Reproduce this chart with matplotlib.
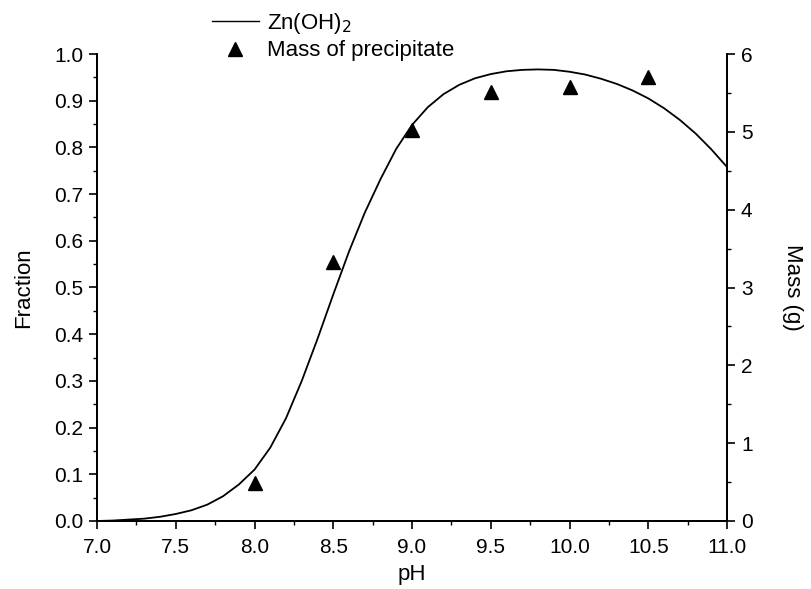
import matplotlib
matplotlib.use("Agg")
import matplotlib.pyplot as plt
from matplotlib.ticker import MultipleLocator, FormatStrFormatter
from matplotlib.lines import Line2D

plt.rcParams['font.family'] = ['Liberation Sans', 'DejaVu Sans']

# Zn(OH)2 fraction versus pH
ph_curve = [7.0, 7.1, 7.2, 7.3, 7.4, 7.5, 7.6, 7.7, 7.8, 7.9,
            8.0, 8.1, 8.2, 8.3, 8.4, 8.5, 8.6, 8.7, 8.8, 8.9,
            9.0, 9.1, 9.2, 9.3, 9.4, 9.5, 9.6, 9.7, 9.8, 9.9,
            10.0, 10.1, 10.2, 10.3, 10.4, 10.5, 10.6, 10.7, 10.8, 10.9, 11.0]
fraction = [0.000, 0.001, 0.003, 0.005, 0.009, 0.015, 0.023, 0.035, 0.053, 0.078,
            0.110, 0.157, 0.220, 0.300, 0.390, 0.485, 0.577, 0.660, 0.732, 0.797,
            0.848, 0.886, 0.914, 0.934, 0.948, 0.957, 0.963, 0.966, 0.967, 0.966,
            0.962, 0.956, 0.947, 0.936, 0.922, 0.905, 0.884, 0.859, 0.830, 0.796, 0.758]

# Measured mass of precipitate
ph_mass = [8.0, 8.5, 9.0, 9.5, 10.0, 10.5]
mass_g = [0.49, 3.33, 5.02, 5.51, 5.58, 5.71]

fig = plt.figure(figsize=(8.11, 5.89), dpi=100)
ax = fig.add_axes([97/811, 1-521/589, (727-97)/811, (521-54)/589])
ax2 = ax.twinx()

ax.plot(ph_curve, fraction, color='black', lw=1.3, solid_joinstyle='round')
ax2.plot(ph_mass, mass_g, linestyle='none', marker='^', color='black',
         markersize=10)

ax.set_xlim(7.0, 11.0)
ax.set_ylim(0.0, 1.0)
ax2.set_ylim(0, 6)

ax.xaxis.set_major_locator(MultipleLocator(0.5))
ax.xaxis.set_minor_locator(MultipleLocator(0.25))
ax.xaxis.set_major_formatter(FormatStrFormatter('%.1f'))
ax.yaxis.set_major_locator(MultipleLocator(0.1))
ax.yaxis.set_minor_locator(MultipleLocator(0.05))
ax.yaxis.set_major_formatter(FormatStrFormatter('%.1f'))
ax2.yaxis.set_major_locator(MultipleLocator(1))
ax2.yaxis.set_minor_locator(MultipleLocator(0.5))

for a in (ax, ax2):
    a.spines['top'].set_visible(False)
    for s in a.spines.values():
        s.set_linewidth(1.3)
    a.tick_params(which='major', direction='out', length=6, width=1.2,
                  labelsize=15, pad=4)
    a.tick_params(which='minor', direction='out', length=3, width=1.0)
ax.tick_params(axis='x', which='major', pad=6)

ax.set_xlabel('pH', fontsize=16, labelpad=5)
ax.set_ylabel('Fraction', fontsize=16, labelpad=14)
ax2.set_ylabel('Mass (g)', fontsize=16, rotation=270, labelpad=36)

handles = [Line2D([], [], color='black', lw=1.0),
           Line2D([], [], linestyle='none', marker='^', color='black', markersize=10)]
labels = ['Zn(OH)$_2$', 'Mass of precipitate']
fig.legend(handles, labels, loc='upper left', bbox_to_anchor=(203/811, 1.0 - 2/589),
           frameon=False, fontsize=16, handlelength=2.1, handletextpad=0.4,
           labelspacing=0.2, borderaxespad=0)

fig.savefig('out.png', dpi=100)
